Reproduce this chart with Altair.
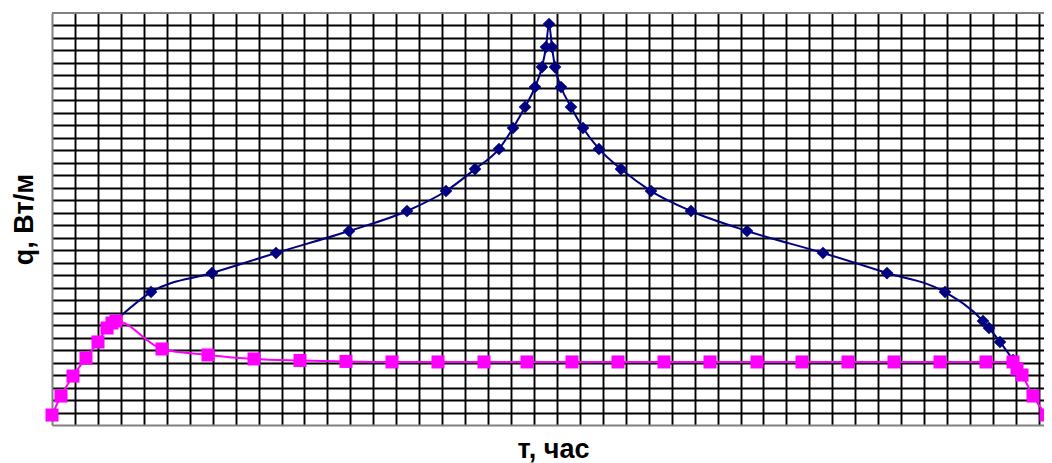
import altair as alt
import pandas as pd

# Values, in grid-cell units (x: cells of time, y: cells of q)
blue_x = [2.745, 4.314, 6.972, 9.760, 12.941, 15.468, 17.168, 18.431, 19.477, 20.087,
          20.610, 21.046, 21.351, 21.525, 21.656, 21.786, 21.917, 22.179, 22.614, 23.137,
          23.834, 24.793, 26.100, 27.843, 30.283, 33.595, 36.383, 38.911, 40.566, 40.828,
          41.307, 41.874]
blue_y = [8.33, 10.65, 12.17, 13.78, 15.54, 17.14, 18.74, 20.50, 22.11, 23.79,
          25.47, 27.07, 28.67, 30.28, 32.12, 30.28, 28.67, 27.07, 25.47, 23.79,
          22.11, 20.50, 18.74, 17.14, 15.54, 13.78, 12.17, 10.65, 8.33, 7.77,
          6.65, 5.21]

pink_x = [0.0, 0.392, 0.915, 1.481, 2.004, 2.397, 2.614, 2.789, 4.793, 6.797,
          8.802, 10.806, 12.810, 14.815, 16.819, 18.824, 20.697, 22.658, 24.662, 26.667,
          28.671, 30.719, 32.680, 34.684, 36.688, 38.693, 40.697, 41.874, 42.048, 42.266,
          42.745, 43.312]
pink_y = [0.80, 2.32, 3.92, 5.37, 6.65, 7.77, 8.17, 8.33, 6.09, 5.61,
          5.29, 5.17, 5.09, 5.05, 5.05, 5.05, 5.05, 5.05, 5.05, 5.05,
          5.05, 5.05, 5.05, 5.05, 5.05, 5.05, 5.05, 5.05, 4.49, 4.00,
          2.32, 0.80]

x_grid = list(range(1, 44))
y_grid = list(range(1, 33))
y_top = [33]

blue = pd.DataFrame({"t": blue_x, "q": blue_y})
pink = pd.DataFrame({"t": pink_x, "q": pink_y})
top = pd.DataFrame({"q": y_top})

FONT = "Liberation Sans"
BORDER = "#808080"

xs = alt.Scale(domain=[0, 43.224], nice=False, zero=False)
ys = alt.Scale(domain=[0, 33], nice=False, zero=False)

x_axis = alt.Axis(values=x_grid, labels=False, ticks=False,
                  domain=True, domainColor=BORDER, domainWidth=2,
                  grid=True, gridColor="#000000", gridWidth=1.9, gridOpacity=1,
                  title="т, час", titleFont=FONT, titleFontSize=27,
                  titleFontWeight="bold", titleColor="#000000",
                  titleX=501, titleY=32, titleBaseline="alphabetic")
y_axis = alt.Axis(values=y_grid, labels=False, ticks=False,
                  domain=True, domainColor=BORDER, domainWidth=2,
                  grid=True, gridColor="#000000", gridWidth=1.9, gridOpacity=1,
                  title="q, Вт/м", titleFont=FONT, titleFontSize=27,
                  titleFontWeight="bold", titleColor="#000000",
                  titleX=-20, titleBaseline="alphabetic")

def enc(ch):
    return ch.encode(
        x=alt.X("t:Q", scale=xs, axis=x_axis),
        y=alt.Y("q:Q", scale=ys, axis=y_axis),
    )

top_rule = alt.Chart(top).mark_rule(color=BORDER, strokeWidth=2).encode(
    y=alt.Y("q:Q", scale=ys, axis=y_axis)
)
blue_line = enc(alt.Chart(blue).mark_line(color="#000080", strokeWidth=2, interpolate="monotone"))
blue_pts = enc(alt.Chart(blue).mark_point(shape="diamond", filled=True, color="#000080",
                                          size=160, opacity=1))
pink_line = enc(alt.Chart(pink).mark_line(color="#FF00FF", strokeWidth=2, interpolate="monotone"))
pink_pts = enc(alt.Chart(pink).mark_point(shape="square", filled=True, color="#FF00FF",
                                          size=170, opacity=1))

chart = alt.layer(top_rule, blue_line, blue_pts, pink_line, pink_pts).properties(
    width=992, height=412,
    autosize=alt.AutoSizeParams(type="none"),
    padding={"left": 44, "top": 5, "right": 0, "bottom": 40},
    background="#ffffff",
).configure_view(strokeWidth=0)

chart.save("out.html", embed_options={"renderer": "svg", "actions": False})
